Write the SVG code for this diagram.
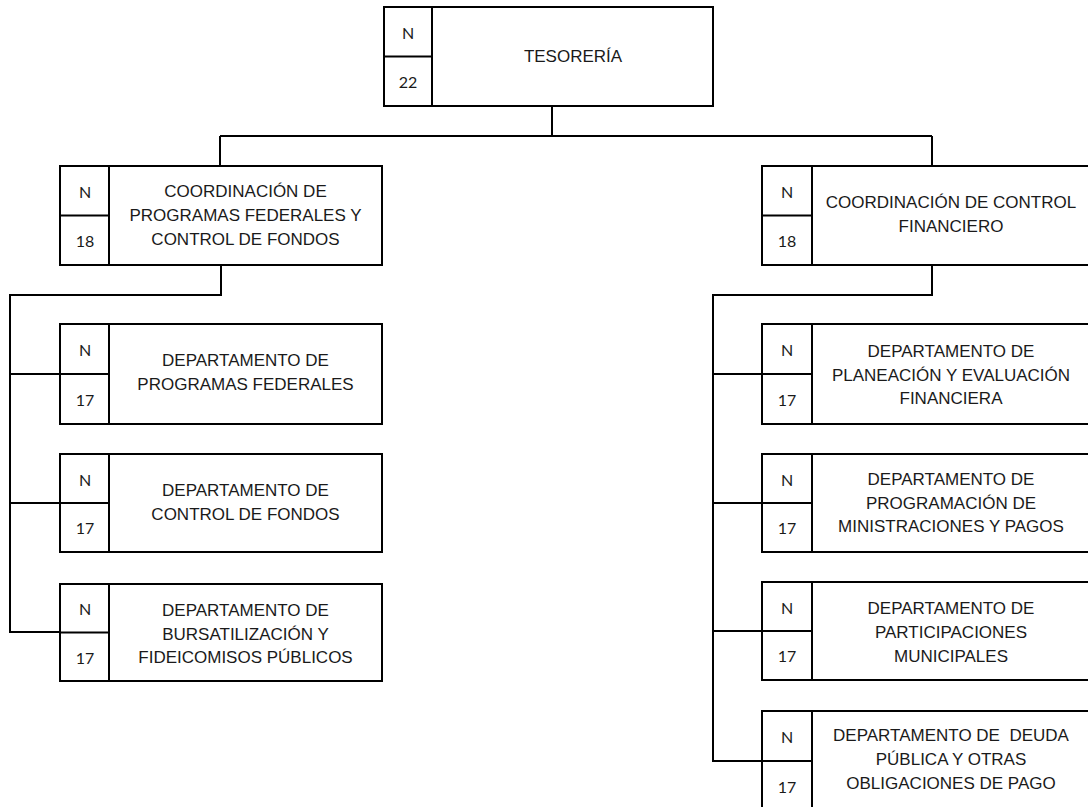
<svg xmlns="http://www.w3.org/2000/svg" width="1088" height="807" viewBox="0 0 1088 807">
<style>
.box{fill:#fff;stroke:#000;stroke-width:2}
.ln{fill:none;stroke:#000;stroke-width:2}
.lbl{font-family:"Liberation Sans",Arial,sans-serif;font-size:17px;fill:#1a1a1a;text-anchor:middle}
.num{font-family:Lato,"Open Sans","Liberation Sans",sans-serif;font-size:16px;fill:#1a1a1a;text-anchor:middle}
</style>
<rect width="1088" height="807" fill="#fff"/>
<g id="connectors">
<path class="ln" d="M552 106V136M220 136H932M220 136V166M932 136V166"/>
<path class="ln" d="M221 265V295H10V632H60M10 374H60M10 503H60"/>
<path class="ln" d="M932 265V295H713V761H762M713 374H762M713 503H762M713 631H762"/>
</g>
<g id="tesoreria">
<rect class="box" x="384" y="7" width="329" height="99"/>
<path class="ln" d="M432 7V106M384 56.5H432"/>
<text class="num" x="408" y="39">N</text>
<text class="num" x="408" y="88">22</text>
<text class="lbl" x="573" y="62">TESORERÍA</text>
</g>
<g id="coord-programas">
<rect class="box" x="60" y="166" width="322" height="99"/>
<path class="ln" d="M109 166V265M60 215.5H109"/>
<text class="num" x="85" y="198">N</text>
<text class="num" x="85" y="247">18</text>
<text class="lbl" x="245.5" y="197">COORDINACIÓN DE</text>
<text class="lbl" x="245.5" y="221">PROGRAMAS FEDERALES Y</text>
<text class="lbl" x="245.5" y="245">CONTROL DE FONDOS</text>
</g>
<g id="dep-programas">
<rect class="box" x="60" y="324" width="322" height="100"/>
<path class="ln" d="M109 324V424M60 374H109"/>
<text class="num" x="85" y="356">N</text>
<text class="num" x="85" y="406">17</text>
<text class="lbl" x="245.5" y="366">DEPARTAMENTO DE</text>
<text class="lbl" x="245.5" y="390">PROGRAMAS FEDERALES</text>
</g>
<g id="dep-control-fondos">
<rect class="box" x="60" y="454" width="322" height="98"/>
<path class="ln" d="M109 454V552M60 503H109"/>
<text class="num" x="85" y="486">N</text>
<text class="num" x="85" y="534">17</text>
<text class="lbl" x="245.5" y="496">DEPARTAMENTO DE</text>
<text class="lbl" x="245.5" y="520">CONTROL DE FONDOS</text>
</g>
<g id="dep-bursatilizacion">
<rect class="box" x="60" y="584" width="322" height="97"/>
<path class="ln" d="M109 584V681M60 632.5H109"/>
<text class="num" x="85" y="615">N</text>
<text class="num" x="85" y="664">17</text>
<text class="lbl" x="245.5" y="616">DEPARTAMENTO DE</text>
<text class="lbl" x="245.5" y="640">BURSATILIZACIÓN Y</text>
<text class="lbl" x="245.5" y="663">FIDEICOMISOS PÚBLICOS</text>
</g>
<g id="coord-control-financiero">
<rect class="box" x="762" y="166" width="328" height="99"/>
<path class="ln" d="M812 166V265M762 215.5H812"/>
<text class="num" x="787" y="198">N</text>
<text class="num" x="787" y="247">18</text>
<text class="lbl" x="951" y="208">COORDINACIÓN DE CONTROL</text>
<text class="lbl" x="951" y="232">FINANCIERO</text>
</g>
<g id="dep-planeacion">
<rect class="box" x="762" y="324" width="328" height="100"/>
<path class="ln" d="M812 324V424M762 374H812"/>
<text class="num" x="787" y="356">N</text>
<text class="num" x="787" y="406">17</text>
<text class="lbl" x="951" y="357">DEPARTAMENTO DE</text>
<text class="lbl" x="951" y="381">PLANEACIÓN Y EVALUACIÓN</text>
<text class="lbl" x="951" y="404">FINANCIERA</text>
</g>
<g id="dep-ministraciones">
<rect class="box" x="762" y="454" width="328" height="98"/>
<path class="ln" d="M812 454V552M762 503H812"/>
<text class="num" x="787" y="486">N</text>
<text class="num" x="787" y="534">17</text>
<text class="lbl" x="951" y="485">DEPARTAMENTO DE</text>
<text class="lbl" x="951" y="509">PROGRAMACIÓN DE</text>
<text class="lbl" x="951" y="532">MINISTRACIONES Y PAGOS</text>
</g>
<g id="dep-participaciones">
<rect class="box" x="762" y="582" width="328" height="98"/>
<path class="ln" d="M812 582V680M762 631H812"/>
<text class="num" x="787" y="614">N</text>
<text class="num" x="787" y="662">17</text>
<text class="lbl" x="951" y="614">DEPARTAMENTO DE</text>
<text class="lbl" x="951" y="638">PARTICIPACIONES</text>
<text class="lbl" x="951" y="662">MUNICIPALES</text>
</g>
<g id="dep-deuda">
<rect class="box" x="762" y="711" width="328" height="100"/>
<path class="ln" d="M812 711V811M762 761H812"/>
<text class="num" x="787" y="743">N</text>
<text class="num" x="787" y="793">17</text>
<text class="lbl" x="951" y="741" style="white-space:pre">DEPARTAMENTO DE  DEUDA</text>
<text class="lbl" x="951" y="765">PÚBLICA Y OTRAS</text>
<text class="lbl" x="951" y="789">OBLIGACIONES DE PAGO</text>
</g>
</svg>
